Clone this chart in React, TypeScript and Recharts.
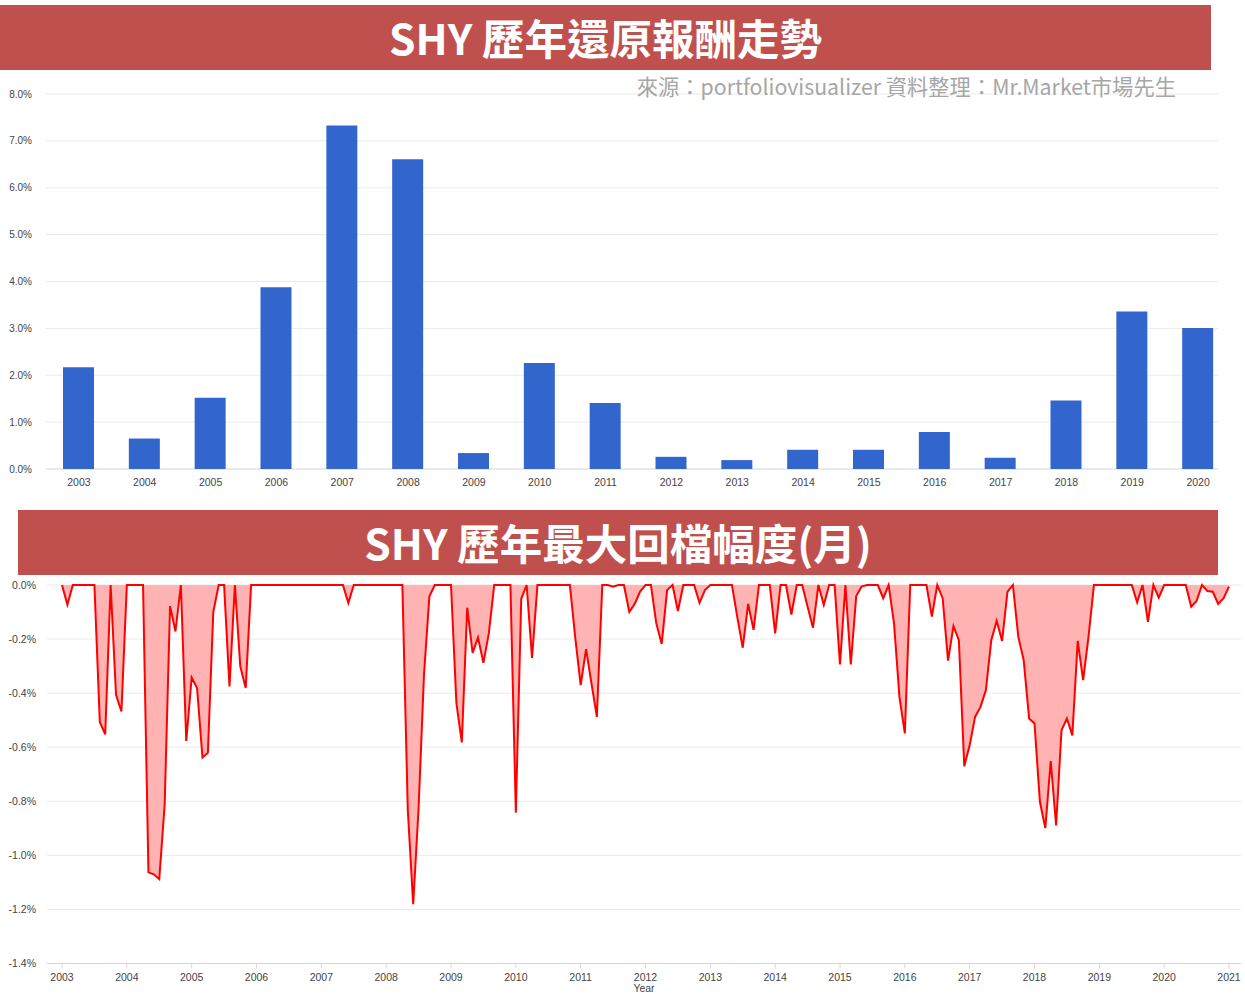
import { BarChart, Bar, XAxis, YAxis, CartesianGrid, AreaChart, Area, Label } from 'recharts';

// annual total return (%), 2003-2020
const years = ['2003', '2004', '2005', '2006', '2007', '2008', '2009', '2010', '2011',
  '2012', '2013', '2014', '2015', '2016', '2017', '2018', '2019', '2020'];
const annualReturn = [2.17, 0.65, 1.52, 3.88, 7.33, 6.61, 0.34, 2.26, 1.41,
  0.26, 0.19, 0.41, 0.41, 0.79, 0.24, 1.46, 3.36, 3.01];
const returnTicks = [0, 1, 2, 3, 4, 5, 6, 7, 8];

// monthly drawdown (%), Jan 2003 .. Jan 2021
const ddStartYear = 2003;
const drawdown = [
  0, -0.073, 0, 0, 0, 0, 0, -0.507, -0.552, 0, -0.406, -0.468, // 2003
  0, 0, 0, 0, -1.063, -1.07, -1.088, -0.814, -0.078, -0.172, 0, -0.577, // 2004
  -0.342, -0.381, -0.638, -0.621, -0.1, 0, 0, -0.375, 0, -0.301, -0.381, 0, // 2005
  0, 0, 0, 0, 0, 0, 0, 0, 0, 0, 0, 0, // 2006
  0, 0, 0, 0, 0, -0.067, 0, 0, 0, 0, 0, 0, // 2007
  0, 0, 0, 0, -0.83, -1.181, -0.826, -0.332, -0.042, 0, 0, 0, // 2008
  0, -0.437, -0.582, -0.084, -0.251, -0.194, -0.288, -0.179, 0, 0, 0, 0, // 2009
  -0.842, -0.051, 0, -0.27, 0, 0, 0, 0, 0, 0, 0, -0.195, // 2010
  -0.37, -0.237, -0.364, -0.488, 0, 0, -0.006, 0, 0, -0.1, -0.07, -0.024, // 2011
  0, 0, -0.142, -0.218, -0.019, 0, -0.096, 0, 0, 0, -0.066, -0.019, // 2012
  0, 0, 0, 0, 0, -0.12, -0.232, -0.07, -0.166, 0, 0, 0, // 2013
  -0.179, 0, 0, -0.109, 0, 0, -0.08, -0.158, 0, -0.074, 0, 0, // 2014
  -0.294, 0, -0.294, -0.041, -0.006, 0, 0, 0, -0.049, 0, -0.142, -0.414, // 2015
  -0.549, 0, 0, 0, 0, -0.117, 0, -0.049, -0.28, -0.152, -0.204, -0.67, // 2016
  -0.593, -0.488, -0.451, -0.389, -0.204, -0.132, -0.207, -0.025, 0, -0.191, -0.278, -0.494, // 2017
  -0.512, -0.802, -0.899, -0.651, -0.889, -0.537, -0.494, -0.556, -0.207, -0.352, -0.191, 0, // 2018
  0, 0, 0, 0, 0, 0, 0, -0.064, 0, -0.136, 0, -0.047, // 2019
  0, 0, 0, 0, 0, -0.08, -0.059, 0, -0.022, -0.025, -0.07, -0.049, // 2020
  -0.006, // 2021
];
const ddYearTicks = [2003, 2004, 2005, 2006, 2007, 2008, 2009, 2010, 2011, 2012,
  2013, 2014, 2015, 2016, 2017, 2018, 2019, 2020, 2021];
const ddTicks = [0, -0.2, -0.4, -0.6, -0.8, -1.0, -1.2, -1.4];

const FONT = 'Arial, "Liberation Sans", sans-serif';
const CJK = '"Noto Sans CJK TC", "Noto Sans CJK SC", sans-serif';
const BANNER = '#c0504d';
const pct = (v: number) => `${v.toFixed(1)}%`;

const TOP_H = 500;
const TOP_MARGIN = { top: 94, right: 14, bottom: 1, left: 0 };
const TOP_XH = 30;
const TOP_BASE = TOP_H - TOP_MARGIN.bottom - TOP_XH;

function Banner({ left, top, width, text }: { left: number; top: number; width: number; text: string }) {
  return (
    <div
      style={{
        position: 'absolute', left, top, width, height: 65, background: BANNER,
        display: 'flex', alignItems: 'center', justifyContent: 'center',
        color: '#fff', fontFamily: CJK, fontWeight: 700, fontSize: 42.5, lineHeight: 1,
        whiteSpace: 'nowrap',
      }}
    >
      {text}
    </div>
  );
}

export default function App() {
  const barData = years.map((y, i) => ({ year: y, ret: annualReturn[i] }));
  const ddData = drawdown.map((v, i) => ({ t: ddStartYear + i / 12, dd: v }));

  return (
    <div style={{ position: 'absolute', left: 0, top: 0, width: 1245, height: 994, overflow: 'hidden', background: '#fff' }}>
      <div style={{ position: 'absolute', left: 0, top: 0 }}>
        <BarChart width={1245} height={TOP_H} data={barData} margin={TOP_MARGIN}>
          <CartesianGrid
            vertical={false}
            stroke="#ebebeb"
            horizontal={(p: any) => (
              <line
                key={`h-${p.index}-${p.y1}`}
                x1={p.x1}
                x2={p.x2 - 13}
                y1={p.y1}
                y2={p.y2}
                stroke={Math.abs(p.y1 - TOP_BASE) < 1 ? '#cdd4e2' : '#ebebeb'}
                strokeWidth={1}
              />
            )}
          />
          <XAxis
            dataKey="year"
            height={TOP_XH}
            axisLine={false}
            tickLine={false}
            tickMargin={4}
            tick={{ fill: '#444', fontSize: 10.5, fontFamily: FONT }}
          />
          <YAxis
            width={46}
            domain={[0, 8]}
            ticks={returnTicks}
            tickFormatter={pct}
            axisLine={false}
            tickLine={false}
            tickMargin={8}
            tick={{ fill: '#444', fontSize: 10, fontFamily: FONT }}
          />
          <Bar dataKey="ret" fill="#3366cc" barSize={31} isAnimationActive={false} />
        </BarChart>
      </div>

      <div style={{ position: 'absolute', left: 0, top: 560 }}>
        <AreaChart width={1245} height={450} data={ddData} margin={{ top: 25, right: 4, bottom: 6.5, left: 0 }}>
          <CartesianGrid vertical={false} stroke="#ebebeb" />
          <XAxis
            type="number"
            dataKey="t"
            domain={[2003, 2021]}
            ticks={ddYearTicks}
            padding={{ left: 15, right: 12 }}
            height={40}
            axisLine={{ stroke: '#cdd4e2' }}
            tickLine={{ stroke: '#d8d8d8' }}
            tickSize={5}
            tickMargin={5}
            tick={{ fill: '#444', fontSize: 10.5, fontFamily: FONT }}
          >
            <Label value="Year" position="insideBottom" offset={12} style={{ fill: '#444', fontSize: 10.5, fontFamily: FONT }} />
          </XAxis>
          <YAxis
            width={47}
            domain={[-1.4, 0]}
            ticks={ddTicks}
            tickFormatter={pct}
            axisLine={false}
            tickLine={false}
            tickMargin={5}
            tick={{ fill: '#444', fontSize: 10.5, fontFamily: FONT }}
          />
          <Area
            type="linear"
            dataKey="dd"
            baseValue={0}
            stroke="#ff0000"
            strokeWidth={2}
            fill="#ffb3b3"
            fillOpacity={1}
            isAnimationActive={false}
          />
        </AreaChart>
      </div>

      <Banner left={0} top={5} width={1211} text="SHY 歷年還原報酬走勢" />
      <div
        style={{
          position: 'absolute', right: 69, top: 75, fontFamily: CJK, fontSize: 21.3, lineHeight: 1,
          color: '#a6a6a6', whiteSpace: 'nowrap',
        }}
      >
        來源：portfoliovisualizer 資料整理：Mr.Market市場先生
      </div>
      <Banner left={18} top={510} width={1200} text="SHY 歷年最大回檔幅度(月)" />
    </div>
  );
}
